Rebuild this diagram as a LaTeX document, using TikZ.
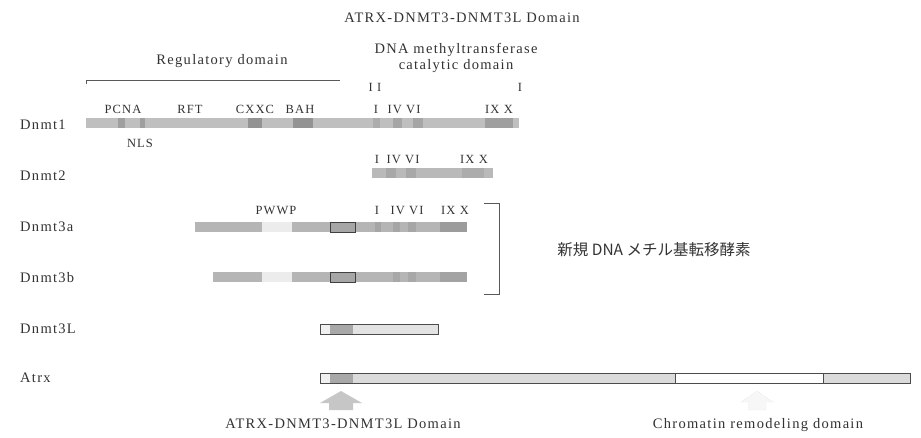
\documentclass[tikz,border=0pt]{standalone}
\usepackage{fontspec}
\setmainfont{Liberation Serif}[LetterSpace=9]
\newfontfamily\jpfont{Noto Sans CJK JP}
\definecolor{inkgray}{RGB}{50,50,50}
\usetikzlibrary{positioning}
\tikzset{
    protlabel/.style={
        anchor=west, inner sep=0pt, text=inkgray,
        font=\fontsize{14.5}{16}\selectfont
    },
    motif/.style={
        anchor=base, inner sep=0pt, text=inkgray,
        font=\fontsize{12.5}{14}\selectfont
    },
    heading/.style={
        inner sep=0pt, align=center, text=inkgray,
        font=\fontsize{14.5}{16.5}\selectfont
    },
    bar/.style={fill=gray!#1},
    bar/.default=50,
    seg/.style={fill=gray!#1},
    seg/.default=80,
    boxed/.style={draw=black!75, line width=0.8pt, fill=gray!#1},
    boxed/.default=70,
    bracketline/.style={draw=black!65, line width=0.7pt},
    housearrow/.style={fill=gray!#1},
    housearrow/.default=45
}

\begin{document}
\begin{tikzpicture}[x=1pt,y=-1pt]
\useasboundingbox (0,0) rectangle (921,437);

\node[heading] (title) at (462,18) {ATRX-DNMT3-DNMT3L Domain};
\node[heading] (regdom) at (222,61) {Regulatory domain};
\node[heading] (catdom) at (456,58) {DNA methyltransferase\\catalytic domain};
\draw[bracketline] (86,84) -- (86,80) -- (340,80);
\node[motif] (catl) at (375,91) {I I};
\node[motif] (catr) at (520,91) {I};

% protein names
\node[protlabel] (dnmt1) at (20,125) {Dnmt1};
\node[protlabel] (dnmt2) at (20,176) {Dnmt2};
\node[protlabel] (dnmt3a) at (20,227) {Dnmt3a};
\node[protlabel] (dnmt3b) at (20,278) {Dnmt3b};
\node[protlabel] (dnmt3l) at (20,329) {Dnmt3L};
\node[protlabel] (atrx) at (20,378) {Atrx};

% Dnmt1
\fill[bar] (86,118) rectangle (519,128);
\fill[seg=75] (118,118) rectangle (125,128);
\fill[seg=75] (140,118) rectangle (145,128);
\fill[seg=85] (248,118) rectangle (262,128);
\fill[seg=85] (293,118) rectangle (313,128);
\fill[seg=65] (373,118) rectangle (380,128);
\fill[seg=70] (393,118) rectangle (402,128);
\fill[seg=70] (413,118) rectangle (423,128);
\fill[seg=75] (485,118) rectangle (513,128);
\node[motif] (pcna) at (123,113) {PCNA};
\node[motif] (rft) at (190,113) {RFT};
\node[motif] (cxxc) at (255,113) {CXXC};
\node[motif] (bah) at (300,113) {BAH};
\node[motif] (m1a) at (376,113) {I};
\node[motif] (m1b) at (404,113) {IV VI};
\node[motif] (m1c) at (499,113) {IX X};
\node[motif] (nls) at (140,147) {NLS};

% Dnmt2
\fill[bar=55] (372,168) rectangle (493,178);
\fill[seg=68] (386,168) rectangle (396,178);
\fill[seg=68] (406,168) rectangle (416,178);
\fill[seg=65] (462,168) rectangle (484,178);
\node[motif] (m2a) at (377,163) {I};
\node[motif] (m2b) at (403,163) {IV VI};
\node[motif] (m2c) at (474,163) {IX X};

% Dnmt3a
\fill[bar=58] (195,222) rectangle (467,232);
\fill[bar=15] (262,222) rectangle (292,232);
\draw[boxed] (330,222) rectangle (355,232);
\fill[seg=70] (375,222) rectangle (381,232);
\fill[seg=70] (393,222) rectangle (400,232);
\fill[seg=70] (408,222) rectangle (416,232);
\fill[seg=78] (440,222) rectangle (467,232);
\node[motif] (pwwp) at (276,214) {PWWP};
\node[motif] (m3a) at (377,214) {I};
\node[motif] (m3b) at (407,214) {IV VI};
\node[motif] (m3c) at (455,214) {IX X};

% Dnmt3b
\fill[bar=58] (213,272) rectangle (467,282);
\fill[bar=15] (262,272) rectangle (292,282);
\draw[boxed] (330,272) rectangle (355,282);
\fill[seg=68] (393,272) rectangle (400,282);
\fill[seg=68] (408,272) rectangle (416,282);
\fill[seg=72] (440,272) rectangle (467,282);

% de novo bracket
\draw[bracketline] (484,203) -- (499,203) -- (499,294) -- (484,294);
\node[heading, font=\jpfont\fontsize{15.5}{18}\selectfont] (denovo) at (654,250) {新規 DNA メチル基転移酵素};

% Dnmt3L
\fill[bar=12] (320,324) rectangle (330,334);
\fill[seg=68] (330,324) rectangle (353,334);
\fill[bar=22] (353,324) rectangle (438,334);
\draw[black!70, line width=0.6pt] (320,324) rectangle (438,334);

% Atrx
\fill[bar=12] (320,373) rectangle (330,383);
\fill[seg=68] (330,373) rectangle (353,383);
\fill[bar=28] (353,373) rectangle (675,383);
\fill[bar=28] (823,373) rectangle (910,383);
\draw[black!70, line width=0.6pt] (320,373) rectangle (910,383)
      (675,373) -- (675,383) (823,373) -- (823,383);

% domain arrows
\coordinate (tipa) at (341,391);
\coordinate (tipb) at (757,391);
\fill[housearrow] (tipa) -- ++(21,12) -- ++(-9,0) -- ++(0,7) -- ++(-24,0)
      -- ++(0,-7) -- ++(-9,0) -- cycle;
\filldraw[housearrow=6, draw=gray!30, densely dotted] (tipb) -- ++(16,11)
      -- ++(-7,0) -- ++(0,8) -- ++(-18,0) -- ++(0,-8) -- ++(-7,0) -- cycle;
\node[heading] (atrxdom) at (343,424) {ATRX-DNMT3-DNMT3L Domain};
\node[heading] (chromdom) at (758,425) {Chromatin remodeling domain};
\end{tikzpicture}
\end{document}
